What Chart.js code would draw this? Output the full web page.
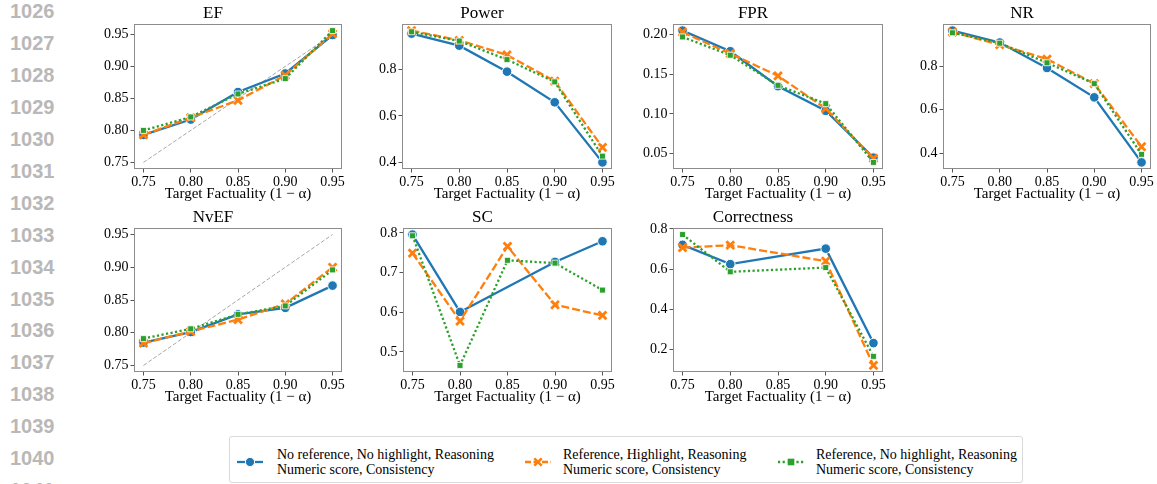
<!DOCTYPE html>
<html>
<head>
<meta charset="utf-8">
<script src="https://cdn.jsdelivr.net/npm/chart.js@4.4.1/dist/chart.umd.min.js"></script>
<style>
    html, body { margin: 0; padding: 0; background: #fff; overflow: hidden; }
    body { width: 1157px; height: 484px; position: relative; font-family: 'Liberation Serif', 'Times New Roman', serif; }
    .lineno { position: absolute; left: 10px; font: bold 20px 'Liberation Sans', Arial, sans-serif; color: #b8b8b8; line-height: 20px; }
    canvas { position: absolute; }
    #legend { position: absolute; left: 229px; top: 436px; width: 792px; height: 45px; border: 1px solid #d9d9d9; border-radius: 3px; }
    #legend svg { position: absolute; top: 18px; }
    #legend .txt { position: absolute; top: 10px; font-size: 14px; line-height: 15px; color: #000; white-space: nowrap; }
</style>
</head>
<body>
<div id="legend"></div>

<script>
// x values shared by every panel
const factuality = ['0.75', '0.80', '0.85', '0.90', '0.95'];

// series order: no ref / no highlight, ref + highlight, ref / no highlight
const seriesLabels = [
    ['No reference, No highlight, Reasoning', 'Numeric score, Consistency'],
    ['Reference, Highlight, Reasoning', 'Numeric score, Consistency'],
    ['Reference, No highlight, Reasoning', 'Numeric score, Consistency'],
];

const efNoRef = [0.793, 0.817, 0.860, 0.889, 0.949];
const efRefHl = [0.793, 0.820, 0.847, 0.886, 0.951];
const efRefNoHl = [0.800, 0.821, 0.857, 0.881, 0.956];

const powerNoRef = [0.955, 0.903, 0.791, 0.659, 0.400];
const powerRefHl = [0.968, 0.926, 0.863, 0.750, 0.465];
const powerRefNoHl = [0.963, 0.923, 0.843, 0.747, 0.427];

const fprNoRef = [0.205, 0.179, 0.135, 0.104, 0.045];
const fprRefHl = [0.203, 0.176, 0.148, 0.107, 0.044];
const fprRefNoHl = [0.197, 0.174, 0.136, 0.113, 0.039];

const nrNoRef = [0.963, 0.908, 0.791, 0.656, 0.357];
const nrRefHl = [0.956, 0.898, 0.832, 0.719, 0.429];
const nrRefNoHl = [0.953, 0.905, 0.815, 0.719, 0.394];

const nvefNoRef = [0.785, 0.801, 0.828, 0.838, 0.872];
const nvefRefHl = [0.784, 0.802, 0.820, 0.844, 0.900];
const nvefRefNoHl = [0.791, 0.806, 0.828, 0.841, 0.896];

const scNoRef = [0.796, 0.601, null, 0.727, 0.779];
const scRefHl = [0.749, 0.578, 0.766, 0.619, 0.592];
const scRefNoHl = [0.793, 0.466, 0.731, 0.724, 0.656];

const corrNoRef = [0.721, 0.625, null, 0.702, 0.233];
const corrRefHl = [0.707, 0.719, null, 0.640, 0.122];
const corrRefNoHl = [0.772, 0.587, null, 0.608, 0.167];

// diagonal reference line y = x for EF / NvEF
const diagonal = [0.75, 0.95];

// y tick labels
const efTicks = ['0.75', '0.80', '0.85', '0.90', '0.95'];
const powerTicks = ['0.4', '0.6', '0.8'];
const fprTicks = ['0.05', '0.10', '0.15', '0.20'];
const nrTicks = ['0.4', '0.6', '0.8'];
const nvefTicks = ['0.75', '0.80', '0.85', '0.90', '0.95'];
const scTicks = ['0.5', '0.6', '0.7', '0.8'];
const corrTicks = ['0.2', '0.4', '0.6', '0.8'];

const COLORS = ['#1f77b4', '#ff7f0e', '#2ca02c'];
const SERIF = "'Liberation Serif', 'Times New Roman', serif";
const Y_AXIS_W = 50;
const X_AXIS_H = 36;
const TITLE_H = 24;
const RIGHT_PAD = 20;

// line numbers in the margin
for (let i = 0; i < 16; i++) {
    const d = document.createElement('div');
    d.className = 'lineno';
    d.style.top = (1.4 + 31.9 * i) + 'px';
    d.textContent = String(1026 + i);
    document.body.appendChild(d);
}

const framePlugin = {
    id: 'frame',
    afterDraw(chart) {
        const { ctx, chartArea: a } = chart;
        ctx.save();
        ctx.strokeStyle = '#8c8c8c';
        ctx.lineWidth = 1;
        ctx.strokeRect(Math.round(a.left) + 0.5, Math.round(a.top) + 0.5,
            Math.round(a.right - a.left) - 1, Math.round(a.bottom - a.top) - 1);
        ctx.restore();
    },
};

function seriesStyle(i) {
    const base = {
        borderColor: COLORS[i],
        backgroundColor: COLORS[i],
        borderWidth: 2.3,
        spanGaps: true,
        tension: 0,
        order: 3 - i,
    };
    if (i === 0) {
        return { ...base, pointStyle: 'circle', pointRadius: 4.8, pointBackgroundColor: COLORS[0], pointBorderColor: '#fff', pointBorderWidth: 1 };
    }
    if (i === 1) {
        return { ...base, borderDash: [8, 3], pointStyle: 'crossRot', pointRadius: 5.5, pointBorderColor: COLORS[1], pointBorderWidth: 2.8 };
    }
    return { ...base, borderDash: [2.2, 2.4], pointStyle: 'rect', pointRadius: 4.2, pointBackgroundColor: COLORS[2], pointBorderColor: '#fff', pointBorderWidth: 0.8 };
}

function toPoints(values) {
    return factuality.map((x, i) => ({ x: parseFloat(x), y: values[i] }));
}

function paddedRange(arrays) {
    const vals = arrays.flat().filter(v => v !== null);
    const lo = Math.min(...vals);
    const hi = Math.max(...vals);
    const m = (hi - lo) * 0.05;
    return [lo - m, hi + m];
}

function makePanel(title, plotLeft, plotTop, plotW, plotH, series, yTicks, withDiagonal) {
    const canvas = document.createElement('canvas');
    const w = Y_AXIS_W + plotW + RIGHT_PAD;
    const h = TITLE_H + plotH + X_AXIS_H;
    canvas.width = w;
    canvas.height = h;
    canvas.style.left = (plotLeft - Y_AXIS_W) + 'px';
    canvas.style.top = (plotTop - TITLE_H) + 'px';
    canvas.style.width = w + 'px';
    canvas.style.height = h + 'px';
    document.body.appendChild(canvas);

    const datasets = series.map((values, i) => ({
        label: seriesLabels[i].join(' '),
        data: toPoints(values),
        ...seriesStyle(i),
    }));
    const rangeInputs = [...series];
    if (withDiagonal) {
        datasets.push({
            label: 'diagonal',
            data: diagonal.map(v => ({ x: v, y: v })),
            borderColor: '#a6a6a6',
            borderWidth: 1,
            borderDash: [4, 2],
            pointRadius: 0,
            order: 10,
        });
        rangeInputs.push(diagonal);
    }
    const [yMin, yMax] = paddedRange(rangeInputs);
    const tickFont = { family: SERIF, size: 14 };

    new Chart(canvas, {
        type: 'line',
        data: { datasets },
        options: {
            responsive: false,
            animation: false,
            devicePixelRatio: 1,
            layout: { padding: { left: 0, right: RIGHT_PAD, top: 0, bottom: 0 } },
            plugins: {
                legend: { display: false },
                tooltip: { enabled: false },
                title: {
                    display: true,
                    text: title,
                    color: '#000',
                    font: { family: SERIF, size: 17, weight: 'normal', lineHeight: 1 },
                    padding: { top: 5, bottom: 2 },
                },
            },
            scales: {
                x: {
                    type: 'linear',
                    min: 0.74,
                    max: 0.96,
                    afterBuildTicks: s => { s.ticks = factuality.map(v => ({ value: parseFloat(v) })); },
                    ticks: {
                        callback: (v, i) => factuality[i],
                        font: tickFont,
                        color: '#000',
                        padding: 1,
                        maxRotation: 0,
                        autoSkip: false,
                    },
                    grid: { display: true, drawOnChartArea: false, drawTicks: true, tickLength: 3.5, tickColor: '#555' },
                    border: { display: false },
                    title: {
                        display: true,
                        text: 'Target Factuality (1 − α)',
                        color: '#000',
                        font: { family: SERIF, size: 15 },
                        padding: { top: 0, bottom: 2 },
                    },
                    afterFit: s => { s.height = X_AXIS_H; },
                },
                y: {
                    min: yMin,
                    max: yMax,
                    afterBuildTicks: s => { s.ticks = yTicks.map(v => ({ value: parseFloat(v) })); },
                    ticks: {
                        callback: (v, i) => yTicks[i],
                        font: tickFont,
                        color: '#000',
                        padding: 2,
                        autoSkip: false,
                    },
                    grid: { display: true, drawOnChartArea: false, drawTicks: true, tickLength: 3.5, tickColor: '#555' },
                    border: { display: false },
                    afterFit: s => { s.width = Y_AXIS_W; },
                },
            },
        },
        plugins: [framePlugin],
    });
}

makePanel('EF', 134, 24, 208, 145, [efNoRef, efRefHl, efRefNoHl], efTicks, true);
makePanel('Power', 402, 24, 210, 145, [powerNoRef, powerRefHl, powerRefNoHl], powerTicks, false);
makePanel('FPR', 673, 24, 210, 145, [fprNoRef, fprRefHl, fprRefNoHl], fprTicks, false);
makePanel('NR', 943, 24, 208, 145, [nrNoRef, nrRefHl, nrRefNoHl], nrTicks, false);
makePanel('NvEF', 134, 228, 208, 144, [nvefNoRef, nvefRefHl, nvefRefNoHl], nvefTicks, true);
makePanel('SC', 403, 228, 209, 144, [scNoRef, scRefHl, scRefNoHl], scTicks, false);
makePanel('Correctness', 673, 228, 210, 144, [corrNoRef, corrRefHl, corrRefNoHl], corrTicks, false);

// legend with line + marker handles
const legendEl = document.getElementById('legend');
const handleLeft = [7, 295, 548];
const textLeft = [47, 333, 586];
const handleSvg = [
    `<line x1="0" y1="7" x2="26" y2="7" stroke="${COLORS[0]}" stroke-width="2.3"/>
     <circle cx="13" cy="7" r="4.6" fill="${COLORS[0]}" stroke="#fff" stroke-width="1"/>`,
    `<line x1="0" y1="7" x2="26" y2="7" stroke="${COLORS[1]}" stroke-width="2.3" stroke-dasharray="6 2.5"/>
     <path d="M9.3 3.3 L16.7 10.7 M16.7 3.3 L9.3 10.7" stroke="${COLORS[1]}" stroke-width="2.6"/>`,
    `<line x1="0" y1="7" x2="26" y2="7" stroke="${COLORS[2]}" stroke-width="2.3" stroke-dasharray="2.2 2.4"/>
     <rect x="9.2" y="3.2" width="7.6" height="7.6" fill="${COLORS[2]}" stroke="#fff" stroke-width="0.8"/>`,
];
seriesLabels.forEach((lines, i) => {
    legendEl.insertAdjacentHTML('beforeend',
        `<svg width="26" height="14" style="left:${handleLeft[i]}px">${handleSvg[i]}</svg>` +
        `<div class="txt" style="left:${textLeft[i]}px">${lines.join('<br>')}</div>`);
});
</script>
</body>
</html>
